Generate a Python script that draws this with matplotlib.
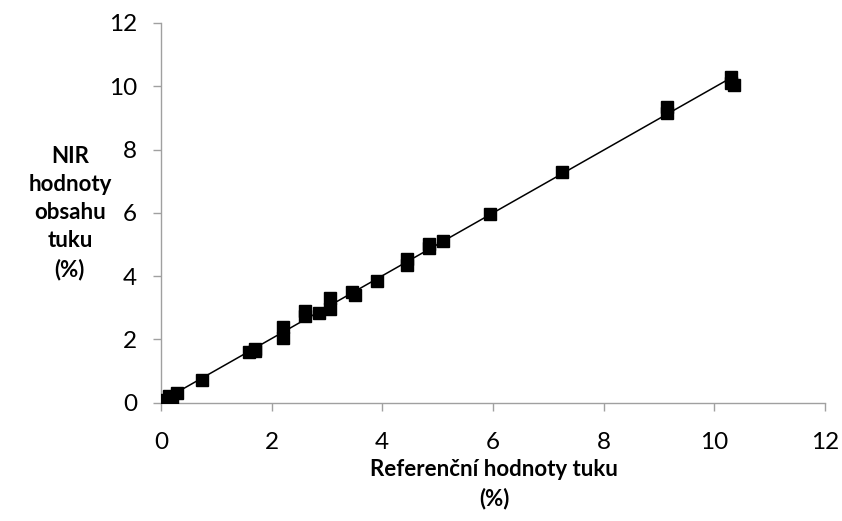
import numpy as np
import matplotlib
matplotlib.use("Agg")
import matplotlib.pyplot as plt

plt.rcParams['font.family'] = ['Lato', 'DejaVu Sans']

# reference values vs NIR values (fat content, %)
ref_fat = [0.05, 0.1, 0.15, 0.2, 0.3, 0.75, 1.6, 1.7, 1.7, 2.2, 2.2, 2.6, 2.6, 2.85,
           3.05, 3.05, 3.45, 3.5, 3.9, 4.45, 4.45, 4.85, 4.85, 5.1, 5.95, 7.25,
           9.15, 9.15, 10.3, 10.3, 10.35]
nir_fat = [0.05, 0.1, 0.2, 0.1, 0.3, 0.72, 1.6, 1.7, 1.65, 2.05, 2.4, 2.75, 2.9, 2.85,
           2.95, 3.3, 3.5, 3.4, 3.85, 4.35, 4.55, 4.9, 5.0, 5.1, 5.95, 7.3,
           9.15, 9.35, 10.3, 10.1, 10.05]

fig = plt.figure(figsize=(8.42, 5.21), dpi=100)
ax = fig.add_axes([0.191, 0.227, 0.789, 0.729])

ax.plot(ref_fat, nir_fat, 's', color='black', markersize=8, zorder=3)

k, q = np.polyfit(ref_fat, nir_fat, 1)
xs = np.array([0, max(ref_fat)])
ax.plot(xs, k * xs + q, color='black', linewidth=1.1, zorder=2)

ax.set_xlim(0, 12)
ax.set_ylim(0, 12)
ax.set_xticks(range(0, 13, 2))
ax.set_yticks(range(0, 13, 2))
for s in ['top', 'right']:
    ax.spines[s].set_visible(False)
for s in ['left', 'bottom']:
    ax.spines[s].set_color('#a0a0a0')
    ax.spines[s].set_linewidth(1.0)
ax.tick_params(colors='#a0a0a0', labelcolor='black', labelsize=17.5, length=6, width=1.0, direction='out')
ax.tick_params(axis='x', pad=15)
ax.tick_params(axis='y', pad=11)

fig.text(0.083, 0.591, "NIR\nhodnoty\nobsahu\ntuku\n(%)", ha='center', va='center',
         fontsize=16, fontweight='bold', linespacing=1.42)
fig.text(0.587, 0.071, "Referenční hodnoty tuku\n(%)", ha='center', va='center',
         fontsize=16, fontweight='bold', linespacing=1.4)

fig.savefig('out.png', dpi=100)
